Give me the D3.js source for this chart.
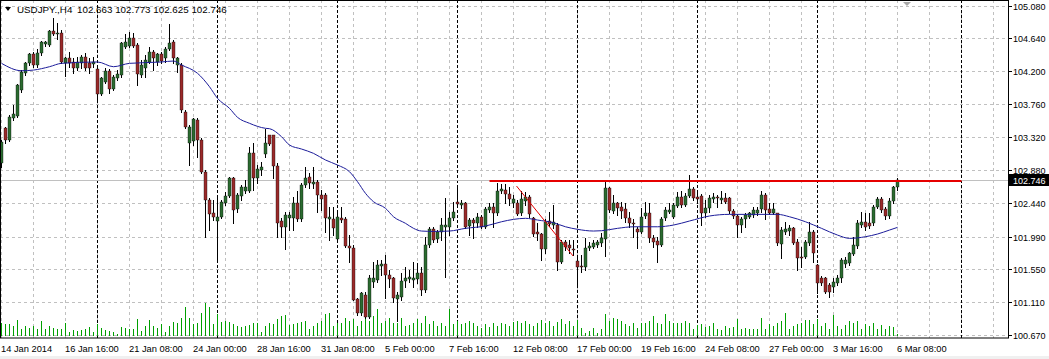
<!DOCTYPE html>
<html><head><meta charset="utf-8">
<script src="https://cdn.jsdelivr.net/npm/d3@7"></script>
<style>html,body{margin:0;padding:0;background:#fff;overflow:hidden}svg{display:block;font-family:"Liberation Sans",Arial,sans-serif}</style>
</head><body><svg id="c" width="1049" height="359"></svg>
<script>
const symbolLabel = "USDJPY.,H4";
const ohlcLabel = "102.663 102.773 102.625 102.746";
const lastPrice = 102.746;

const opens = [102.976,103.444,103.288,103.587,103.609,103.957,104.189,104.314,104.434,104.291,
104.447,104.568,104.559,104.746,104.701,104.724,104.322,104.380,104.336,104.247,
104.314,104.403,104.323,104.305,104.233,103.903,104.068,104.211,103.970,104.113,
104.158,104.537,104.545,104.648,104.559,104.158,104.247,104.335,104.469,104.327,
104.438,104.380,104.500,104.603,104.291,104.291,103.667,103.243,103.279,103.555,
103.288,102.864,102.485,102.306,102.208,102.262,102.449,102.543,102.784,102.360,
102.543,102.610,102.605,103.109,102.775,102.886,103.100,103.350,103.350,102.940,
102.203,102.119,102.239,102.239,102.450,102.226,102.686,102.797,102.699,102.730,
102.552,102.552,102.226,102.226,101.959,102.240,102.226,101.870,101.838,101.156,
100.969,101.214,100.924,101.392,101.415,101.606,101.629,101.481,101.437,101.156,
101.192,101.406,101.423,101.415,101.423,101.504,101.281,101.883,102.092,101.959,
102.061,102.128,102.128,102.239,102.462,102.418,102.440,102.137,102.217,102.173,
102.262,102.119,102.351,102.396,102.306,102.610,102.619,102.565,102.440,102.440,
102.306,102.476,102.520,102.239,102.061,102.030,101.825,102.208,102.150,102.150,
101.660,101.927,101.883,101.825,101.673,101.602,101.584,101.838,101.860,101.883,
101.905,101.959,102.641,102.342,102.440,102.387,102.360,102.248,102.181,102.092,
102.061,102.271,102.306,101.972,101.941,101.883,102.239,102.329,102.262,102.404,
102.529,102.418,102.538,102.627,102.529,102.538,102.306,102.373,102.494,102.529,
102.485,102.507,102.507,102.342,102.271,102.150,102.226,102.262,102.284,102.315,
102.360,102.552,102.360,102.315,102.306,101.896,102.061,102.074,102.106,101.927,
101.727,101.718,101.905,102.061,101.615,101.437,101.437,101.348,101.325,101.379,
101.437,101.629,101.638,101.762,101.870,102.150,102.195,102.181,102.172,102.396,
102.494,102.360,102.271,102.476,102.663];

const highs = [103.290,103.466,103.622,103.756,104.037,104.224,104.336,104.456,104.470,104.501,
104.617,104.617,104.759,104.920,104.849,104.759,104.403,104.470,104.380,104.403,
104.425,104.456,104.380,104.403,104.247,104.135,104.247,104.233,104.158,104.224,
104.603,104.706,104.737,104.724,104.581,104.358,104.425,104.536,104.491,104.456,
104.469,104.536,104.840,104.625,104.402,104.313,103.689,103.488,103.577,103.577,
103.310,102.886,102.507,102.485,102.529,102.485,102.596,102.797,102.797,102.574,
102.686,102.752,103.198,103.243,102.953,102.997,103.439,103.359,103.359,102.975,
102.239,102.329,102.329,102.529,102.600,102.708,102.931,102.850,102.931,102.752,
102.619,102.574,102.396,102.396,102.351,102.396,102.253,102.017,101.883,101.170,
101.259,101.259,101.482,101.660,101.682,101.682,101.749,101.548,101.459,101.259,
101.504,101.593,101.548,101.660,101.638,101.593,101.994,102.128,102.128,102.084,
102.240,102.507,102.329,102.462,102.641,102.485,102.462,102.239,102.239,102.306,
102.284,102.387,102.440,102.440,102.708,102.699,102.699,102.663,102.552,102.485,
102.610,102.596,102.552,102.262,102.172,102.048,102.226,102.329,102.418,102.172,
101.950,101.950,101.950,101.950,101.704,101.749,101.972,101.927,101.950,101.950,
102.039,102.752,102.663,102.552,102.462,102.462,102.440,102.329,102.226,102.128,
102.373,102.462,102.440,102.016,101.994,102.262,102.387,102.449,102.440,102.596,
102.610,102.583,102.819,102.654,102.596,102.565,102.485,102.552,102.583,102.552,
102.610,102.574,102.520,102.360,102.297,102.262,102.315,102.329,102.387,102.396,
102.610,102.583,102.440,102.440,102.315,102.119,102.195,102.150,102.128,101.958,
101.860,101.950,102.195,102.083,101.629,101.468,101.459,101.370,101.437,101.481,
101.704,101.727,101.794,101.994,102.217,102.329,102.306,102.306,102.418,102.529,
102.529,102.387,102.507,102.672,102.773];

const lows = [102.930,103.243,103.280,103.556,103.600,103.935,104.158,104.291,104.269,104.269,
104.425,104.545,104.545,104.693,104.635,104.314,104.144,104.269,104.180,104.224,
104.247,104.224,104.189,104.269,103.832,103.890,104.046,103.912,103.957,104.091,
104.135,104.514,104.537,104.528,104.024,104.135,104.135,104.313,104.224,104.291,
104.313,104.335,104.491,104.313,104.202,103.667,103.443,102.953,103.221,103.065,
102.842,101.994,102.084,102.217,101.682,102.239,102.418,102.529,102.181,102.329,
102.485,102.574,102.587,102.618,102.708,102.819,103.065,103.221,102.775,101.994,
101.994,101.825,102.084,102.084,102.200,102.208,102.663,102.641,102.641,102.329,
102.351,102.061,101.950,102.017,101.950,102.195,101.852,101.660,101.147,100.946,
100.946,100.902,100.902,101.325,101.392,101.481,101.169,101.325,101.125,100.860,
101.147,101.325,101.392,101.325,101.370,101.214,101.259,101.860,101.927,101.927,
101.950,101.459,102.016,102.217,102.396,102.373,102.106,102.016,101.972,102.128,
102.106,102.106,102.329,102.128,102.284,102.574,102.440,102.418,102.396,102.284,
102.284,102.418,102.262,102.003,101.950,101.682,101.771,102.137,102.106,101.548,
101.637,101.816,101.771,101.749,101.325,101.526,101.548,101.816,101.838,101.860,
101.870,101.736,102.329,102.306,102.284,102.239,102.195,102.128,101.994,101.838,
102.039,102.239,101.927,101.860,101.660,101.870,102.217,102.306,102.239,102.387,
102.396,102.404,102.520,102.485,102.440,102.150,102.262,102.329,102.462,102.396,
102.440,102.440,102.315,102.239,101.994,102.061,102.128,102.239,102.262,102.284,
102.329,102.226,102.297,102.297,101.883,101.704,102.030,102.016,101.896,101.548,
101.593,101.704,101.883,101.660,101.236,101.348,101.236,101.191,101.258,101.348,
101.392,101.593,101.615,101.749,101.838,102.128,102.083,102.106,102.150,102.373,
102.329,102.226,102.239,102.449,102.625];

const closes = [103.266,103.288,103.600,103.631,104.024,104.202,104.314,104.434,104.291,104.456,
104.594,104.594,104.746,104.701,104.724,104.336,104.380,104.322,104.247,104.336,
104.403,104.247,104.247,104.336,103.903,104.113,104.211,103.970,104.135,104.171,
104.581,104.594,104.648,104.545,104.171,104.291,104.358,104.469,104.380,104.438,
104.349,104.500,104.589,104.380,104.380,103.689,103.457,103.466,103.564,103.288,
102.864,102.485,102.298,102.253,102.262,102.462,102.543,102.775,102.351,102.552,
102.663,102.663,103.109,102.775,102.895,102.931,103.243,103.234,102.940,102.181,
102.119,102.284,102.284,102.449,102.230,102.686,102.775,102.708,102.730,102.552,
102.494,102.240,102.253,102.106,102.253,102.217,101.870,101.838,101.147,100.969,
101.236,100.924,101.437,101.437,101.615,101.629,101.481,101.423,101.169,101.214,
101.406,101.446,101.450,101.437,101.504,101.281,101.883,102.092,101.950,102.061,
102.150,102.150,102.239,102.329,102.427,102.440,102.128,102.217,102.173,102.262,
102.119,102.360,102.387,102.306,102.610,102.627,102.565,102.494,102.494,102.297,
102.494,102.529,102.297,102.030,102.030,101.825,102.195,102.164,102.195,101.660,
101.927,101.852,101.838,101.816,101.593,101.593,101.838,101.870,101.914,101.927,
101.972,102.641,102.351,102.440,102.373,102.342,102.239,102.172,102.164,102.061,
102.262,102.306,101.972,101.927,101.883,102.226,102.351,102.351,102.418,102.529,
102.418,102.538,102.627,102.507,102.498,102.306,102.382,102.507,102.529,102.507,
102.507,102.462,102.342,102.271,102.150,102.226,102.284,102.306,102.351,102.351,
102.552,102.351,102.315,102.360,101.905,102.083,102.092,102.106,101.914,101.704,
101.704,101.927,102.061,101.780,101.370,101.370,101.258,101.258,101.392,101.437,
101.682,101.682,101.771,101.883,102.172,102.195,102.128,102.137,102.396,102.494,
102.351,102.271,102.476,102.654,102.746];

const volumes = [6700,5800,5800,5000,8000,3300,5000,4200,5000,3700,
7500,3300,5000,4200,3700,3700,6300,2000,3000,2500,
3000,3300,4700,2000,5800,4200,3000,2500,2000,800,
4700,4200,3700,3300,8300,2500,5000,8000,5000,4200,
5800,2000,5000,7000,6300,9200,14700,9200,5800,6700,
11700,16700,14700,5800,10800,7000,7500,7000,5800,5000,
4700,5000,5300,6300,6300,2000,5000,6700,5800,8300,
10000,10300,5300,5800,6300,7000,7500,3700,5000,6300,
7500,10800,11300,5000,6300,6300,9200,7500,8300,5000,
7500,10000,7500,10000,13300,6700,7500,9200,6700,6300,
9200,5000,5300,6700,8300,6700,10000,5800,7500,5000,
6300,5000,13700,5800,7500,5800,6700,7500,6300,5000,
4200,5800,4700,6300,5000,6300,5800,5000,7000,7500,
6300,7500,5800,5000,6300,8000,6700,7500,5000,7000,
8300,5800,7500,5000,8000,4200,1700,2500,4200,1700,
3300,10800,7500,9200,8300,7500,5800,5000,6300,4200,
6700,6300,7500,10000,6700,5800,10800,7500,6700,6700,
6300,7500,6700,3300,5300,5800,4700,5000,6300,3700,
3000,5000,4200,4700,8700,3300,4200,3700,3700,3300,
9200,3700,5800,5000,6300,7500,11300,3700,5000,5800,
6300,8000,8000,5800,8700,5000,6300,3300,10300,5000,
3700,5300,7500,6700,7500,3700,5800,5000,6300,3300,
5300,3700,5000,4700,800];

const maIdx = [0,5,8,12,15,24,28,32,40,43,45,49,52,54,57,59,62,66,67,70,72,75,78,81,84,87,89,91,93,96,98,101,103,105,108,112,116,121,125,128,131,134,138,141,144,148,150,154,158,164,168,172,177,182,189,194,197,201,205,209,212,216,219,222,224];
const maVal = [104.313,104.214,104.223,104.268,104.313,104.331,104.268,104.313,104.331,104.344,104.291,104.180,104.000,103.845,103.711,103.591,103.511,103.444,103.439,103.332,103.220,103.167,103.109,103.020,102.953,102.863,102.730,102.574,102.462,102.374,102.261,102.173,102.106,102.070,102.065,102.070,102.106,102.137,102.194,102.226,102.240,102.217,102.181,102.127,102.093,102.070,102.074,102.106,102.127,102.127,102.150,102.204,102.271,102.293,102.293,102.293,102.261,102.194,102.106,102.016,101.972,101.994,102.030,102.083,102.119];

const priceTicks = [105.080,104.640,104.200,103.760,103.320,102.880,102.440,101.990,101.550,101.110,100.670];
const dateLabels = ["14 Jan 2014","16 Jan 16:00","21 Jan 08:00","24 Jan 00:00","28 Jan 16:00","31 Jan 08:00","5 Feb 00:00","7 Feb 16:00","12 Feb 08:00","17 Feb 00:00","19 Feb 16:00","24 Feb 08:00","27 Feb 00:00","3 Mar 16:00","6 Mar 08:00"];
const dateLabelIdx = [0,16,32,48,64,80,96,112,128,144,160,176,192,208,224];
const weekSeparators = [24,54,84,114,144,174,204,240];
const resistanceLevel = 102.739, resistanceFrom = 122, resistanceTo = 240;
const trendIdx = [128.75,142.9], trendVal = [102.672,101.736];

const svg = d3.select("#c");
const plotR = 1008, plotB = 338;
const xs = d3.scaleLinear().domain([0,1]).range([1.5,5.5]);
const ys = d3.scaleLinear().domain([100.67,105.08]).range([335.7,6]);
const vs = d3.scaleLinear().domain([0,20000]).range([336,296]);
const crisp = v => Math.round(v - 0.5) + 0.5;

svg.append("rect").attr("x",0).attr("y",0).attr("width",1049).attr("height",359).attr("fill","#fff");
svg.append("defs").append("clipPath").attr("id","clip").append("rect").attr("x",0).attr("y",0).attr("width",plotR).attr("height",plotB);
const plot = svg.append("g").attr("clip-path","url(#clip)");

// grid
plot.append("g").selectAll("line").data(priceTicks).join("line")
  .attr("x1",0).attr("x2",plotR).attr("y1",d=>crisp(ys(d))).attr("y2",d=>crisp(ys(d)))
  .attr("stroke","#c0c0c0").attr("stroke-dasharray","3,3");
plot.append("g").selectAll("line").data(d3.range(0,252,8)).join("line")
  .attr("x1",d=>xs(d)).attr("x2",d=>xs(d)).attr("y1",0).attr("y2",plotB)
  .attr("stroke","#c0c0c0").attr("stroke-dasharray","3,3");
plot.append("g").selectAll("line").data(weekSeparators).join("line")
  .attr("x1",d=>xs(d)).attr("x2",d=>xs(d)).attr("y1",0).attr("y2",plotB)
  .attr("stroke","#000").attr("stroke-dasharray","3,2");
// bid line
plot.append("line").attr("x1",0).attr("x2",plotR).attr("y1",crisp(ys(lastPrice))).attr("y2",crisp(ys(lastPrice)))
  .attr("stroke","#c0c0c0");

// volumes
plot.append("g").attr("shape-rendering","crispEdges").selectAll("rect").data(volumes).join("rect")
  .attr("x",(d,i)=>xs(i)-0.5).attr("width",1)
  .attr("y",d=>Math.round(vs(d))).attr("height",d=>vs(0)-Math.round(vs(d)))
  .attr("fill","#00a000");

// candles
const idx = d3.range(opens.length);
const cg = plot.append("g");
cg.selectAll("line").data(idx).join("line")
  .attr("x1",i=>xs(i)).attr("x2",i=>xs(i))
  .attr("y1",i=>Math.round(ys(highs[i]))).attr("y2",i=>Math.round(ys(lows[i]))+1)
  .attr("stroke","#000");
cg.selectAll("rect").data(idx).join("rect")
  .attr("x",i=>xs(i)-1.5).attr("width",3)
  .attr("y",i=>Math.round(ys(Math.max(opens[i],closes[i]))))
  .attr("height",i=>Math.max(1,Math.round(ys(Math.min(opens[i],closes[i])))-Math.round(ys(Math.max(opens[i],closes[i])))))
  .attr("fill",i=>closes[i]>=opens[i]?"#2b6b30":"#9a2a2a")
  .attr("stroke","#000").attr("stroke-width",0.35);

// moving average
plot.append("path").datum(maIdx.map((d,k)=>[d,maVal[k]]))
  .attr("d",d3.line().x(d=>xs(d[0])).y(d=>ys(d[1])).curve(d3.curveMonotoneX))
  .attr("fill","none").attr("stroke","#1c1c9a").attr("stroke-width",1);

// resistance & trend line
plot.append("line").attr("x1",xs(resistanceFrom)).attr("x2",xs(resistanceTo))
  .attr("y1",ys(resistanceLevel)).attr("y2",ys(resistanceLevel))
  .attr("stroke","#e60000").attr("stroke-width",2);
plot.append("line").attr("x1",xs(trendIdx[0])).attr("x2",xs(trendIdx[1]))
  .attr("y1",ys(trendVal[0])).attr("y2",ys(trendVal[1]))
  .attr("stroke","#e60000").attr("stroke-width",1);

// shift marker
svg.append("path").attr("d","M903,2 L911,2 L907,6 Z").attr("fill","#a8a8a8");

// frame
svg.append("rect").attr("x",0.5).attr("y",0.5).attr("width",plotR).attr("height",plotB-0.5)
  .attr("fill","none").attr("stroke","#000");

// title
svg.append("path").attr("d","M5,7 L11,7 L8,11 Z").attr("fill","#000");
svg.append("text").attr("x",17).attr("y",12.5).attr("font-size",9.8).text(symbolLabel);
svg.append("text").attr("x",77).attr("y",12.5).attr("font-size",9.8).text(ohlcLabel);

// right axis
const ra = svg.append("g");
ra.selectAll("line").data(priceTicks).join("line")
  .attr("x1",plotR).attr("x2",plotR+4).attr("y1",d=>crisp(ys(d))).attr("y2",d=>crisp(ys(d))).attr("stroke","#000");
ra.selectAll("text").data(priceTicks).join("text")
  .attr("x",plotR+5).attr("y",d=>crisp(ys(d))+3.5).attr("font-size",9).attr("fill","#000")
  .text(d=>d.toFixed(3));
// last price box
const ly = ys(lastPrice);
svg.append("rect").attr("x",plotR+1).attr("y",Math.round(ly)-6).attr("width",1049-plotR-1).attr("height",12).attr("fill","#000");
svg.append("text").attr("x",plotR+5).attr("y",Math.round(ly)+3.5).attr("font-size",9).attr("fill","#fff").text(lastPrice.toFixed(3));

// bottom axis
svg.append("g").selectAll("text").data(dateLabels).join("text")
  .attr("x",(d,k)=>xs(dateLabelIdx[k])-0.5).attr("y",352).attr("font-size",9.3).attr("fill","#000").text(d=>d);
svg.append("rect").attr("x",0).attr("y",356).attr("width",1049).attr("height",3).attr("fill","#f0f0f0");
</script></body></html>
